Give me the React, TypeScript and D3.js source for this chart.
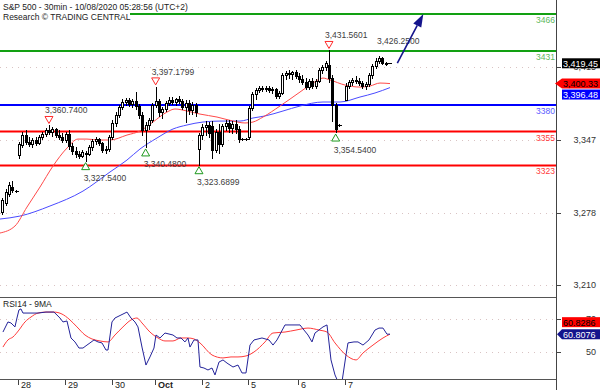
import React from 'react';
import * as d3 from 'd3';

type Bar = [number, number, number, number] | null;

// OHLC, 30-min bars
const bars: Bar[] = [
  [3279,3292,3277,3290],[3288,3301,3286,3298],[3296,3307,3294,3305],[3303,3308,3298,3300],[3299,3300,3298,3299],
  [3333,3345,3330,3343],[3342,3355,3340,3352],[3352,3356,3343,3345],[3345,3350,3341,3343],[3343,3349,3340,3347],
  [3347,3350,3342,3344],[3344,3352,3343,3350],[3350,3355,3348,3353],[3353,3358,3351,3356],[3356,3360.74,3353,3355],
  [3355,3359,3351,3357],[3357,3358,3350,3352],[3352,3356,3348,3350],[3350,3354,3345,3347],
  [3347,3355,3345,3353],[3353,3356,3339,3341],[3341,3344,3334,3337],[3337,3340,3331,3334],[3334,3337,3330,3332],
  [3332,3338,3331,3336],[3335,3337,3327.54,3334],[3334,3342,3333,3340],[3340,3348,3338,3346],[3346,3350,3343,3348],
  [3348,3349,3342,3344],[3344,3345,3336,3338],[3338,3341,3335,3339],[3339,3352,3337,3350],
  [3350,3366,3348,3363],[3363,3373,3360,3371],[3371,3380,3369,3378],[3378,3386,3376,3383],[3383,3387,3380,3385],
  [3385,3387,3379,3381],[3381,3386,3378,3384],[3384,3392,3376,3379],[3379,3381,3368,3371],[3371,3373,3352,3356],
  [3356,3364,3340.48,3361],[3361,3368,3357,3366],[3366,3382,3364,3380],[3380,3397.18,3378,3384],
  [3384,3386,3370,3373],[3373,3378,3368,3376],[3376,3384,3374,3382],[3382,3388,3380,3385],[3385,3388,3381,3383],
  [3383,3387,3380,3386],[3386,3389,3382,3384],[3384,3386,3376,3378],[3378,3385,3364,3382],[3382,3385,3372,3375],
  [3375,3383,3372,3380],[3380,3382,3370,3373],
  [3339,3354,3323.69,3352],[3352,3362,3348,3359],[3359,3365,3352,3361],[3361,3364,3350,3354],[3360,3365,3330,3338],
  [3338,3357,3336,3355],[3355,3362,3335,3343],[3343,3362,3341,3360],[3360,3366,3356,3363],[3363,3366,3355,3358],
  [3358,3365,3354,3362],[3362,3366,3354,3357],[3357,3360,3345,3348],[3348,3349,3347,3348],[3348,3349,3347,3348],
  [3350,3379,3348,3377],[3377,3392,3375,3390],[3390,3396,3386,3394],[3394,3398,3392,3396],[3396,3398,3393,3395],
  [3395,3398,3393,3396],[3396,3398,3392,3394],[3394,3397,3391,3395],[3395,3396,3387,3389],[3389,3393,3387,3391],
  [3391,3410,3390,3408],[3408,3412,3405,3410],[3410,3413,3406,3409],[3409,3412,3405,3411],[3411,3413,3406,3407],
  [3407,3410,3402,3405],[3405,3408,3400,3402],[3402,3406,3395,3397],[3397,3405,3395,3403],[3403,3406,3396,3398],
  [3398,3405,3396,3403],[3403,3415,3402,3413],[3413,3418,3410,3416],[3416,3422,3413,3420],[3418,3431.56,3402,3406],
  [3406,3408,3365,3380],[3380,3382,3354.54,3357],[3361,3362,3360,3361],null,
  [3384.56,3401,3384.56,3398],[3398,3404,3396,3402],[3402,3406,3399,3404],[3404,3407,3401,3403],[3403,3406,3399,3401],
  [3401,3403,3396,3398],[3398,3402,3395,3400],[3400,3410,3398,3408],[3408,3419,3406,3417],[3417,3424,3415,3422],
  [3422,3426.26,3420,3424],[3424,3425,3419,3420],[3420,3421,3418,3419],[3419.4,3419.6,3419.3,3419.45],
];

// moving averages sampled as [bar index, price]
const redMA: [number, number][] = [
  [-0.7,3259.2],[3.8,3265.8],[7.4,3283.7],[11.3,3302.6],[15.2,3322.4],[19.4,3339.4],[22.7,3347.9],[25.4,3347.9],
  [29.3,3347],[32.3,3347],[37.4,3351.7],[41.3,3355.5],[45.2,3364],[49.4,3373.4],[51.8,3376.3],[55.4,3374.4],
  [59.3,3371.5],[64.4,3368.7],[69.2,3364.9],[72.8,3363.1],[75.2,3364],[78.2,3368.7],[83.3,3379.1],[89.3,3392.3],
  [93.2,3400.8],[96.2,3405.5],[98.3,3403.7],[102.8,3398.9],[107.3,3397],[110.3,3398],[113.3,3400.8],[116.3,3400.3],
];
const blueMA: [number, number][] = [
  [-0.7,3272.4],[5.3,3275.2],[14.3,3284.7],[24.2,3298.8],[32.3,3316.8],[37.4,3328.1],[41.3,3338.5],[46.4,3348.9],
  [51.2,3357.4],[55.4,3361.2],[60.2,3364],[65.3,3364.9],[71.3,3364.9],[75.2,3367.8],[78.8,3369.7],[84.2,3374.4],
  [89.3,3379.1],[96.2,3382.9],[101.3,3382.9],[107.3,3387.6],[111.8,3391.4],[116.3,3396.5],
];

const rsi: [number, number][] = [
  [0.2,62.1],[1.7,68.2],[2.6,67.6],[3.8,65.2],[4.4,70.6],[5.0,75.5],[5.6,76.1],[6.2,73.6],[8.6,73.6],[10.7,73.6],
  [13.1,74.2],[15.5,74.2],[17.3,70.6],[18.2,68.2],[19.4,68.8],[20.6,58.5],[21.8,56.1],[23.0,52.4],[24.2,52.4],
  [25.4,54.2],[26.3,55.5],[27.5,57.3],[28.7,56.1],[29.9,55.5],[31.1,51.2],[31.7,51.2],[32.9,68.2],[33.8,70.6],
  [35.6,72.4],[37.4,74.2],[38.6,70.6],[39.8,68.2],[40.7,65.2],[41.9,53.0],[43.1,42.1],[44.3,47.0],[45.5,52.4],
  [46.1,60.3],[47.3,58.5],[48.8,61.5],[51.2,60.3],[52.4,58.5],[53.6,58.5],[54.8,56.1],[55.7,58.5],[56.3,53.0],
  [57.5,57.3],[58.7,57.3],[59.3,40.9],[60.5,40.3],[61.7,39.1],[62.9,40.3],[63.8,36.1],[65.0,43.9],[66.2,45.2],
  [67.4,43.3],[69.2,40.9],[70.7,42.1],[71.9,37.3],[73.1,37.3],[74.3,54.2],[75.5,57.3],[77.9,58.5],[80.0,57.3],
  [81.2,54.2],[82.4,57.3],[84.8,66.4],[86.9,66.4],[89.3,66.4],[90.5,63.3],[91.7,60.3],[92.9,56.1],[93.8,61.5],
  [96.2,65.2],[97.4,66.4],[98.6,45.2],[99.8,36.1],[100.7,32],[101.9,32],[103.1,48.2],[103.7,55.5],[105.5,56.1],
  [106.7,56.1],[108.2,54.2],[110.0,57.3],[111.8,63.3],[113.0,64.5],[114.2,64.5],[115.4,60.8],[116.3,60.8],
];
const rsiMA: [number, number][] = [
  [0.2,53.0],[1.7,57.3],[3.2,59.1],[5.0,63.3],[6.8,68.2],[8.6,71.2],[10.7,73.6],[13.1,74.2],[15.5,74.2],[17.9,73.0],
  [20.0,70.0],[22.4,65.2],[24.8,60.3],[26.9,57.9],[29.3,56.7],[31.7,56.1],[33.8,60.3],[36.2,65.2],[38.6,69.4],
  [40.4,70.6],[41.9,67.6],[44.3,62.1],[46.7,58.5],[48.8,56.7],[51.2,56.7],[53.6,58.5],[55.7,58.5],[57.5,57.9],
  [59.3,55.5],[62.9,48.2],[66.2,46.4],[68.6,47.0],[70.7,47.0],[73.1,47.6],[75.5,50.0],[78.8,56.1],[81.2,61.5],
  [84.8,62.1],[88.1,63.3],[91.7,64.5],[95.0,63.3],[97.4,62.1],[99.8,55.5],[103.1,48.2],[106.1,45.2],[108.2,49.4],
  [111.2,54.2],[114.2,58.5],[116.3,60.8],
];

const levelValues = [3466, 3431, 3380, 3355, 3323];
const levelKinds = ['res', 'res', 'pivot', 'sup', 'sup'];

const priceTicks = [3210, 3278.5, 3347, 3415.5];
const priceTickLabels = ['3,210', '3,278', '3,347', '3,415'];
const rsiTicks = [50, 70];
const rsiTickLabels = ['50', '70'];

const dayTickBars = [5, 19, 33, 46, 60, 74, 89, 103];
const dayLabels = ['28', '29', '30', 'Oct', '2', '5', '6', '7'];

const annBars = [14, 25, 43, 46, 59, 98, 100, 113];
const annTexts = ['3,360.7400', '3,327.5400', '3,340.4800', '3,397.1799', '3,323.6899', '3,431.5601', '3,354.5400', '3,426.2500'];
const annKinds = ['high', 'low', 'low', 'high', 'low', 'high', 'low', 'text'];

const lastClose = 3419.45;
const lastRedMA = 3400.33;
const lastBlueMA = 3396.48;
const lastRsi = 60.8076;
const lastRsiMA = 60.8286;

// projection arrow: [bar, price] -> [bar, price]
const arrowFrom: [number, number] = [118.5, 3419.5];
const arrowTo: [number, number] = [126.3, 3466];

const FONT = '"Liberation Sans", Arial, sans-serif';

export default function App() {
  const axisX = 556;
  const mainTop = 0, mainBottom = 297, rsiTop = 297, rsiBottom = 379;
  const x = d3.scaleLinear().domain([0, bars.length - 1]).range([2.3, 389]);
  const y = d3.scaleLinear().domain([3198.8, 3479.2]).range([mainBottom, mainTop]);
  const yr = d3.scaleLinear().domain([33.64, 83.33]).range([rsiBottom, rsiTop]);

  const maLine = d3.line<[number, number]>().x(d => x(d[0])).y(d => y(d[1])).curve(d3.curveMonotoneX);
  const rsiLine = d3.line<[number, number]>().x(d => x(d[0])).y(d => yr(d[1]));
  const rsiMALine = d3.line<[number, number]>().x(d => x(d[0])).y(d => yr(d[1])).curve(d3.curveMonotoneX);

  const levelLine: Record<string, string> = { res: '#12a012', pivot: '#0000ff', sup: '#ff0000' };
  const levelText: Record<string, string> = { res: '#5cb85c', pivot: '#5a5aff', sup: '#ff3a3a' };

  const candles = bars.map((b, i) => {
    if (!b) return null;
    const [o, h, l, c] = b;
    const cx = Math.round(x(i));
    const yh = Math.round(y(h)), yl = Math.round(y(l));
    const yo = y(o), yc = y(c);
    const top = Math.round(Math.min(yo, yc)), bot = Math.round(Math.max(yo, yc));
    const up = c >= o;
    return (
      <g key={i}>
        <line x1={cx + 0.5} x2={cx + 0.5} y1={yh} y2={yl + 1} stroke="#000" strokeWidth={1} />
        {bot - top < 1 ? (
          <line x1={cx - 1} x2={cx + 3} y1={top + 0.5} y2={top + 0.5} stroke="#000" strokeWidth={1} />
        ) : up ? (
          <rect x={cx - 0.5} y={top + 0.5} width={2} height={bot - top} fill="#fff" stroke="#000" strokeWidth={1} />
        ) : (
          <rect x={cx - 1} y={top} width={3} height={bot - top + 1} fill="#000" />
        )}
      </g>
    );
  });

  const annotations = annBars.map((bi, k) => {
    const b = bars[bi]!;
    const cx = x(bi);
    const kind = annKinds[k];
    if (kind === 'high') {
      const yh = y(b[1]);
      const tip = yh - 2, base = yh - 9;
      return (
        <g key={k}>
          <polygon points={`${cx - 4},${base} ${cx + 4},${base} ${cx},${tip}`} fill="#fff" stroke="#ff2a2a" strokeWidth={1} />
          <text x={cx - 4} y={base - 3} fontSize={8.5} fill="#404040">{annTexts[k]}</text>
        </g>
      );
    } else if (kind === 'low') {
      const yl = y(b[2]);
      const tip = yl + 2, base = yl + 9;
      return (
        <g key={k}>
          <polygon points={`${cx - 4},${base} ${cx + 4},${base} ${cx},${tip}`} fill="#fff" stroke="#1e9a1e" strokeWidth={1} />
          <text x={cx - 2} y={base + 11.5} fontSize={8.5} fill="#404040">{annTexts[k]}</text>
        </g>
      );
    }
    return <text key={k} x={cx - 2} y={y(b[1]) - 12} fontSize={8.5} fill="#404040">{annTexts[k]}</text>;
  });

  // arrow geometry
  const ax1 = x(arrowFrom[0]), ay1 = y(arrowFrom[1]);
  const ax2 = x(arrowTo[0]), ay2 = y(arrowTo[1]);
  const ang = Math.atan2(ay2 - ay1, ax2 - ax1);
  const hl = 13, hw = 4.5;
  const bx = ax2 - hl * Math.cos(ang), by = ay2 - hl * Math.sin(ang);
  const px = -Math.sin(ang) * hw, py = Math.cos(ang) * hw;

  // right value boxes
  const yClose = y(lastClose);
  const yRed = y(lastRedMA);
  const yBlue = Math.max(y(lastBlueMA), yRed + 11);
  const yRsi = yr(lastRsi);
  const yRsiMA = Math.min(yr(lastRsiMA), yRsi - 12);

  const arrowBox = (cy: number, tipX: number) =>
    `${tipX},${cy} ${562},${cy - 5} ${601},${cy - 5} ${601},${cy + 5} ${562},${cy + 5}`;

  return (
    <div style={{ position: 'absolute', left: 0, top: 0 }}>
      <svg width={600} height={390} style={{ display: 'block', background: '#fff', fontFamily: FONT }}>
        <defs>
          <clipPath id="mainClip"><rect x={0} y={mainTop} width={axisX} height={mainBottom - mainTop} /></clipPath>
          <clipPath id="rsiClip"><rect x={0} y={rsiTop} width={axisX} height={rsiBottom - rsiTop} /></clipPath>
        </defs>
        <rect x={0} y={0} width={600} height={390} fill="#fff" />

        {/* grid */}
        {priceTicks.map((t, i) => (
          <line key={i} x1={0} x2={axisX} y1={Math.round(y(t)) + 0.5} y2={Math.round(y(t)) + 0.5}
            stroke="#d9c3c3" strokeWidth={1} strokeDasharray="1,5" />
        ))}
        {rsiTicks.map((t, i) => (
          <line key={i} x1={0} x2={axisX} y1={Math.round(yr(t)) + 0.5} y2={Math.round(yr(t)) + 0.5}
            stroke="#d9c3c3" strokeWidth={1} strokeDasharray="1,5" />
        ))}

        {/* levels */}
        {levelValues.map((v, i) => (
          <g key={i}>
            <line x1={0} x2={axisX} y1={y(v)} y2={y(v)} stroke={levelLine[levelKinds[i]]} strokeWidth={2} />
            <text x={axisX - 1} y={y(v) + 9} fontSize={8.5} textAnchor="end" fill={levelText[levelKinds[i]]}>{v}</text>
          </g>
        ))}

        <g clipPath="url(#mainClip)">
          <path d={maLine(blueMA) || ''} fill="none" stroke="#4a4aff" strokeWidth={1} />
          <path d={maLine(redMA) || ''} fill="none" stroke="#ff4a4a" strokeWidth={1} />
          {candles}
        </g>

        {annotations}

        {/* arrow */}
        <line x1={ax1} y1={ay1} x2={bx} y2={by} stroke="#14148c" strokeWidth={1.6} />
        <polygon points={`${ax2},${ay2} ${bx + px},${by + py} ${bx - px},${by - py}`} fill="#14148c" />

        {/* title */}
        <rect x={0} y={11} width={130} height={10} fill="#fff" />
        <text x={3} y={10} fontSize={8.5} fill="#222">S&amp;P 500 - 30min - 10/08/2020 05:28:56 (UTC+2)</text>
        <text x={3} y={20} fontSize={8.5} fill="#222">Research © TRADING CENTRAL</text>

        {/* RSI panel */}
        <g clipPath="url(#rsiClip)">
          <path d={rsiMALine(rsiMA) || ''} fill="none" stroke="#ff3b3b" strokeWidth={1} />
          <path d={rsiLine(rsi) || ''} fill="none" stroke="#23239a" strokeWidth={1} />
        </g>
        <text x={3} y={307} fontSize={8.5} fill="#222">RSI14 - 9MA</text>

        {/* frame */}
        <line x1={0} x2={axisX} y1={297.5} y2={297.5} stroke="#555" strokeWidth={1} />
        <line x1={0} x2={axisX} y1={379.5} y2={379.5} stroke="#555" strokeWidth={1} />
        <line x1={axisX + 0.5} x2={axisX + 0.5} y1={0} y2={390} stroke="#444" strokeWidth={1} />

        {/* price axis */}
        {priceTicks.map((t, i) => (
          <g key={i}>
            <line x1={axisX} x2={axisX + 5} y1={Math.round(y(t)) + 0.5} y2={Math.round(y(t)) + 0.5} stroke="#444" />
            <text x={596} y={y(t) + 3} fontSize={9} textAnchor="end" fill="#333">{priceTickLabels[i]}</text>
          </g>
        ))}
        {rsiTicks.map((t, i) => (
          <g key={i}>
            <line x1={axisX} x2={axisX + 5} y1={Math.round(yr(t)) + 0.5} y2={Math.round(yr(t)) + 0.5} stroke="#444" />
            <text x={596} y={yr(t) + 3} fontSize={9} textAnchor="end" fill="#333">{rsiTickLabels[i]}</text>
          </g>
        ))}

        {/* value boxes */}
        <rect x={562} y={yClose - 5} width={39} height={10} fill="#000" />
        <text x={563} y={yClose + 3.5} fontSize={9} fill="#fff">{d3.format(',.2f')(lastClose)}</text>
        <polygon points={arrowBox(yRed, 555)} fill="#ff0000" />
        <text x={563} y={yRed + 3.5} fontSize={9} fill="#000">{d3.format(',.2f')(lastRedMA)}</text>
        <rect x={562} y={yBlue - 5} width={39} height={10} fill="#0000ff" />
        <text x={563} y={yBlue + 3.5} fontSize={9} fill="#fff">{d3.format(',.2f')(lastBlueMA)}</text>

        <rect x={562} y={yRsiMA - 5} width={39} height={10} fill="#ff0000" />
        <text x={563} y={yRsiMA + 3.5} fontSize={9} fill="#000">{d3.format('.4f')(lastRsiMA)}</text>
        <polygon points={arrowBox(yRsi, 557)} fill="#14148c" />
        <text x={563} y={yRsi + 3.5} fontSize={9} fill="#fff">{d3.format('.4f')(lastRsi)}</text>

        {/* time axis */}
        {dayTickBars.map((bi, i) => {
          const tx = Math.round(x(bi) - 0.5) + 0.5;
          return (
            <g key={i}>
              <line x1={tx} x2={tx} y1={380} y2={385} stroke="#444" />
              <text x={tx + 2.5} y={388} fontSize={9} fill="#222" fontWeight={dayLabels[i] === 'Oct' ? 'bold' : 'normal'}>
                {dayLabels[i]}
              </text>
            </g>
          );
        })}
      </svg>
    </div>
  );
}
